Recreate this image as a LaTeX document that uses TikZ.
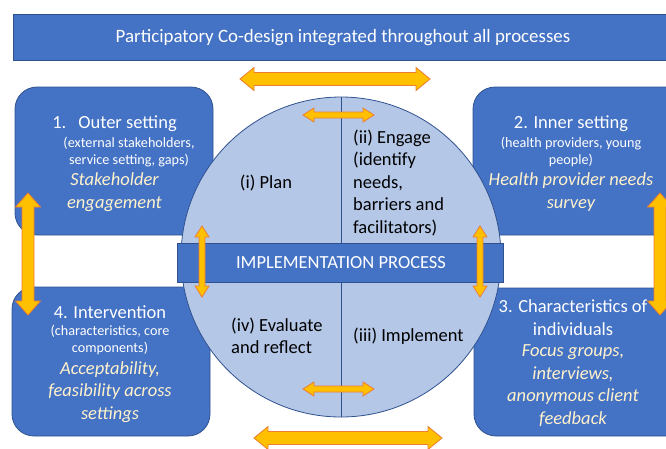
\documentclass[tikz,border=0pt]{standalone}
\usepackage{fontspec}
\setmainfont{Carlito}
\definecolor{boxblue}{HTML}{4472C4}
\definecolor{boxline}{HTML}{2F528F}
\definecolor{circfill}{HTML}{B4C7E7}
\definecolor{arrfill}{HTML}{FFC000}
\definecolor{arrline}{HTML}{ED7D31}
\definecolor{italtxt}{HTML}{FFF2CC}
% horizontal double block arrow: xa, xb, y, shaft half, head half, head length
\newcommand{\HArrow}[6]{%
  \filldraw[blockarrow] (#1,#3) -- ++(#6,-#5) -- ++(0,{#5-#4}) -- ++({#2-#1-2*#6},0)
    -- ++(0,{-(#5-#4)}) -- (#2,#3) -- ++(-#6,#5) -- ++(0,{-(#5-#4)})
    -- ++({-(#2-#1-2*#6)},0) -- ++(0,{#5-#4}) -- cycle;}
% vertical double block arrow: x, ya, yb, shaft half, head half, head length
\newcommand{\VArrow}[6]{%
  \filldraw[blockarrow] (#1,#2) -- ++(-#5,#6) -- ++({#5-#4},0) -- ++(0,{#3-#2-2*#6})
    -- ++({-(#5-#4)},0) -- (#1,#3) -- ++(#5,-#6) -- ++({-(#5-#4)},0)
    -- ++(0,{-(#3-#2-2*#6)}) -- ++({#5-#4},0) -- cycle;}
\begin{document}
\begin{tikzpicture}[x=1pt,y=-1pt,
  blockarrow/.style={fill=arrfill,draw=arrline,line width=0.8pt,line join=miter},
  bluebox/.style={fill=boxblue,draw=boxline,line width=0.8pt,rounded corners=22pt},
  bigtxt/.style={font=\fontsize{18.5}{22.5}\selectfont,inner sep=0pt},
  titletxt/.style={bigtxt,text=white,align=center},
  subtxt/.style={font=\fontsize{14.2}{16.7}\selectfont,inner sep=0pt,text=white,align=center},
  itxt/.style={font=\fontsize{18.5}{22.7}\selectfont\itshape,inner sep=0pt,text=italtxt,align=center},
  circtxt/.style={bigtxt,text=black,align=left}]
\useasboundingbox (0,0) rectangle (666,448);
\clip (0,0) rectangle (666,448);
% banner
\node[fill=boxblue,draw=boxline,line width=0.8pt,minimum width=655pt,minimum height=46pt,inner sep=0pt,anchor=north west] (banner) at (13,14) {};
\node[titletxt,font=\fontsize{18.9}{22.5}\selectfont] (bannertxt) at (343,37.5) {Participatory Co-design integrated throughout all processes};
% four boxes
\draw[bluebox] (15,87) rectangle (213,235);
\draw[bluebox] (473,87) rectangle (690,235);
\draw[bluebox] (12,287) rectangle (210,436);
\draw[bluebox] (474,288) rectangle (690,436);
% circle
\draw[fill=circfill,draw=boxline,line width=0.8pt] (341,257) circle (160pt);
\draw[boxline,line width=0.8pt] (341,97) -- (341,417);
% band
\node[fill=boxblue,draw=boxline,line width=0.8pt,minimum width=326pt,minimum height=39pt,inner sep=0pt] (band) at (340,262.5) {};
\node[bigtxt,text=white] (bandtxt) at (341,263) {IMPLEMENTATION PROCESS};
% box 1
\node[titletxt] (t1) at (114.5,124) {1.\hspace{12pt}Outer setting};
\node[subtxt] (s1) at (129,152) {(external stakeholders,\\service setting, gaps)};
\node[itxt] (i1) at (114.5,192) {Stakeholder\\engagement};
% box 2
\node[titletxt] (t2) at (571,124) {2. Inner setting};
\node[subtxt] (s2) at (571,152) {(health providers, young\\people)};
\node[itxt] (i2) at (571,192) {Health provider needs\\survey};
% box 3
\node[titletxt] (t3) at (573,317.5) {3. Characteristics of\\individuals};
\node[itxt] (i3) at (573,385.5) {Focus groups,\\interviews,\\anonymous client\\feedback};
% box 4
\node[titletxt] (t4) at (110,312) {4. Intervention};
\node[subtxt] (s4) at (110,340) {(characteristics, core\\components)};
\node[itxt] (i4) at (110,392) {Acceptability,\\feasibility across\\settings};
% circle texts
\node[circtxt] (plan) at (266,183) {(i) Plan};
\node[circtxt,anchor=west] (engage) at (353,183) {(ii) Engage\\(identify\\needs,\\barriers and\\facilitators)};
\node[circtxt,anchor=west] (evaluate) at (231,336) {(iv) Evaluate\\and reflect};
\node[circtxt,anchor=west] (implement) at (353,336) {(iii) Implement};
% arrows
\HArrow{240}{430}{79}{6.5}{11.5}{14}
\HArrow{254}{442}{438}{6.5}{11.5}{14}
\HArrow{303}{374}{115}{3}{7}{11}
\HArrow{303}{374}{389}{3}{7}{11}
\VArrow{202}{226}{297}{3}{7}{11}
\VArrow{480}{226}{297}{3}{7}{11}
\VArrow{28}{193}{315}{6}{12.5}{14}
\VArrow{660}{193}{315}{6}{12.5}{14}
\end{tikzpicture}
\end{document}
